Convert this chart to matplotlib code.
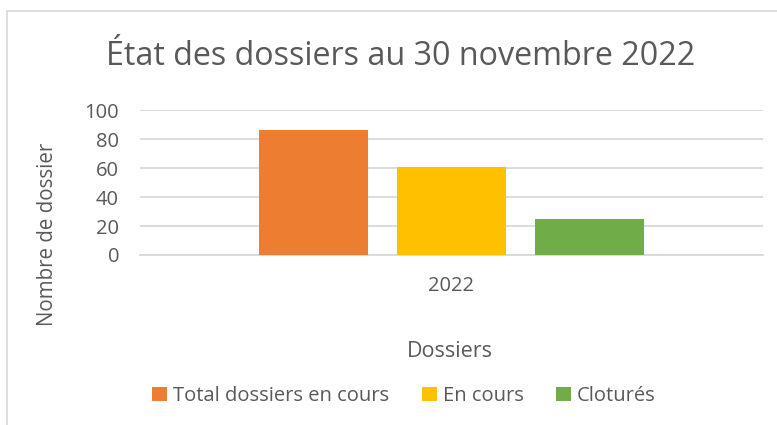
import numpy as np
import matplotlib.pyplot as plt
from matplotlib.patches import Rectangle

plt.rcParams['font.family'] = ['Open Sans', 'DejaVu Sans']

categories = ['2022']
series = ['Total dossiers en cours', 'En cours', 'Cloturés']
values = [86, 61, 25]
colors = ['#ED7D31', '#FFC000', '#70AD47']

text_color = '#595959'
grid_color = '#D9D9D9'

fig = plt.figure(figsize=(7.77, 4.25), dpi=100)
ax = fig.add_axes([0.180, 0.400, 0.802, 0.341])

x = np.arange(len(categories))
width = 0.175
step = 0.2215
for i, (name, val, col) in enumerate(zip(series, values, colors)):
    ax.bar(x + (i - 1) * step, [val], width=width, color=col, label=name, zorder=3)

ax.set_xlim(-0.5, 0.5)
ax.set_ylim(0, 100)
ax.set_yticks(np.arange(0, 101, 20))
ax.set_xticks(x)
ax.set_xticklabels(categories)
ax.yaxis.grid(True, color=grid_color, linewidth=1.3, zorder=0)
for s in ['top', 'right', 'left']:
    ax.spines[s].set_visible(False)
ax.spines['bottom'].set_color(grid_color)
ax.spines['bottom'].set_linewidth(1.3)
ax.tick_params(axis='both', length=0, labelsize=14.5, colors=text_color)
ax.tick_params(axis='y', pad=15)
ax.tick_params(axis='x', pad=15)

ax.set_ylabel('Nombre de dossier', fontsize=14.8, color=text_color)
ax.yaxis.set_label_coords(-0.148, 0.14)
ax.set_xlabel('Dossiers', fontsize=15.5, color=text_color)
ax.xaxis.set_label_coords(0.498, -0.669)
ax.xaxis.label.set_va('center')
ax.yaxis.label.set_va('center')

fig.text(0.516, 0.868, 'État des dossiers au 30 novembre 2022', ha='center', va='center',
         fontsize=23.2, color=text_color)

fig.legend(loc='center', bbox_to_anchor=(0.52, 0.068), ncol=3, frameon=False,
           fontsize=14.5, handlelength=0.75, handleheight=0.75, handletextpad=0.3,
           columnspacing=1.6, labelcolor=text_color)

fig.patches.append(Rectangle((7 / 777, -0.1), 1.2, 0.974 + 0.1, transform=fig.transFigure,
                             fill=False, edgecolor=grid_color, linewidth=1.2))

fig.savefig('out.png', dpi=100)
